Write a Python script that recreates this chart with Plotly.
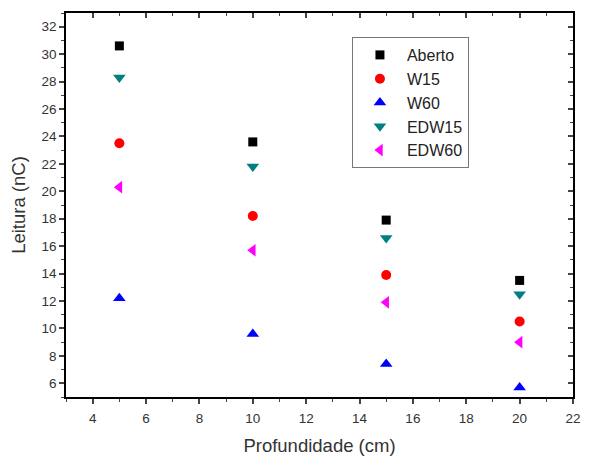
import plotly.graph_objects as go

profundidade = [5, 10, 15, 20]
aberto = [30.6, 23.6, 17.9, 13.5]
w15 = [23.5, 18.2, 13.9, 10.5]
w60 = [12.2, 9.6, 7.4, 5.7]
edw15 = [28.3, 21.8, 16.6, 12.5]
edw60 = [20.3, 15.7, 11.9, 9.0]

series = [
    ("Aberto", aberto, "square", "#000000", 9),
    ("W15", w15, "circle", "#ff0000", 10),
    ("W60", w60, "triangle-up", "#0000ff", 11),
    ("EDW15", edw15, "triangle-down", "#008080", 11),
    ("EDW60", edw60, "triangle-left", "#ff00ff", 11),
]

fig = go.Figure()
for name, vals, sym, col, sz in series:
    fig.add_trace(go.Scatter(x=profundidade, y=vals, mode="markers", name=name,
                             marker=dict(symbol=sym, color=col, size=sz, line=dict(width=0))))

# invisible trace for mirror axes
fig.add_trace(go.Scatter(x=[3], y=[5], xaxis="x2", yaxis="y2", mode="markers",
                         marker=dict(opacity=0), showlegend=False, hoverinfo="skip"))

tickfont = dict(family="Arial, Liberation Sans", size=13.5, color="#333333")
titlefont = dict(family="Arial, Liberation Sans", size=18.5, color="#333333")
fig.update_layout(
    width=585, height=448,
    margin=dict(l=58, r=20, t=5, b=59),
    plot_bgcolor="white", paper_bgcolor="white",
    xaxis=dict(range=[3, 22], dtick=2, tick0=0, ticks="outside", ticklen=5, tickwidth=1.5,
               showline=True, linecolor="black", linewidth=1.5, showgrid=False, zeroline=False,
               tickfont=tickfont, automargin=False, ticklabelstandoff=3,
               minor=dict(dtick=1, ticks="outside", ticklen=3, tickwidth=1.2),
               title=dict(text="Profundidade (cm)", font=titlefont, standoff=15)),
    yaxis=dict(range=[5, 33], dtick=2, tick0=0, ticks="outside", ticklen=5, tickwidth=1.5,
               showline=True, linecolor="black", linewidth=1.5, showgrid=False, zeroline=False,
               tickfont=tickfont, automargin=False,
               minor=dict(dtick=1, ticks="outside", ticklen=3, tickwidth=1.2),
               title=dict(text="Leitura (nC)", font=titlefont, standoff=14)),
    xaxis2=dict(range=[3, 22], dtick=2, tick0=0, overlaying="x", side="top", ticks="inside",
                ticklen=5, tickwidth=1.5, showticklabels=False, showline=True, linecolor="black",
                linewidth=1.5, showgrid=False, zeroline=False, automargin=False,
                minor=dict(dtick=1, ticks="inside", ticklen=3, tickwidth=1.2)),
    yaxis2=dict(range=[5, 33], dtick=2, tick0=0, overlaying="y", side="right", ticks="inside",
                ticklen=5, tickwidth=1.5, showticklabels=False, showline=True, linecolor="black",
                linewidth=1.5, showgrid=False, zeroline=False, automargin=False,
                minor=dict(dtick=1, ticks="inside", ticklen=3, tickwidth=1.2)),
    legend=dict(x=0.564, y=0.9375, xanchor="left", yanchor="top",
                bordercolor="#777777", borderwidth=1, bgcolor="white",
                font=dict(family="Arial, Liberation Sans", size=16, color="#222222"),
                itemwidth=44, entrywidth=122, tracegroupgap=0),
    showlegend=True,
)

fig.write_html("out.html")
